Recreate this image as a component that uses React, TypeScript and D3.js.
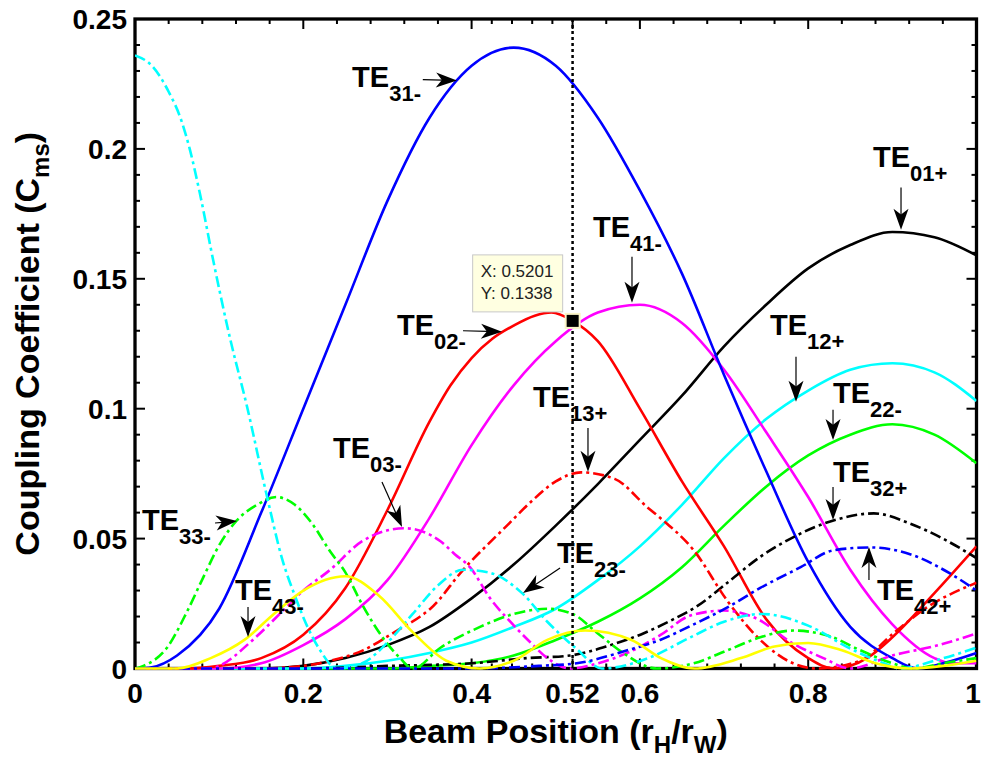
import React, { useRef, useEffect } from 'react';
import * as d3 from 'd3';

type Pt = [number, number];

// ---- curves: [beam position, coupling coefficient] ----
const te31Minus: Pt[] = [[0, 0], [0.02, 0.0005], [0.05, 0.005], [0.1, 0.023], [0.15, 0.06], [0.2, 0.1], [0.25, 0.14], [0.3, 0.18], [0.35, 0.212], [0.4, 0.232], [0.45, 0.239], [0.5, 0.232], [0.55, 0.212], [0.6, 0.184], [0.65, 0.152], [0.7, 0.113], [0.75, 0.076], [0.8, 0.041], [0.85, 0.016], [0.9, 0.004], [0.93, 0], [0.96, 0.002], [1, 0.006]];
const te02Minus: Pt[] = [[0, 0], [0.06, 0], [0.1, 0.001], [0.15, 0.004], [0.2, 0.013], [0.25, 0.031], [0.3, 0.061], [0.35, 0.095], [0.375, 0.109], [0.4, 0.1195], [0.425, 0.127], [0.45, 0.132], [0.475, 0.1358], [0.495, 0.137], [0.52, 0.1338], [0.55, 0.126], [0.6, 0.1], [0.65, 0.072], [0.7, 0.047], [0.75, 0.019], [0.8, 0.004], [0.83, 0], [0.87, 0.004], [0.9, 0.012], [0.95, 0.029], [1, 0.047]];
const te41Minus: Pt[] = [[0, 0], [0.1, 0], [0.15, 0.002], [0.2, 0.009], [0.25, 0.019], [0.3, 0.034], [0.35, 0.058], [0.4, 0.086], [0.45, 0.109], [0.5, 0.126], [0.55, 0.137], [0.6, 0.14], [0.65, 0.133], [0.7, 0.115], [0.75, 0.091], [0.8, 0.066], [0.85, 0.038], [0.9, 0.017], [0.95, 0.004], [0.97, 0.002], [1, 0.002]];
const te01Plus: Pt[] = [[0, 0], [0.15, 0], [0.2, 0.001], [0.25, 0.004], [0.3, 0.009], [0.35, 0.016], [0.4, 0.027], [0.45, 0.04], [0.5, 0.055], [0.55, 0.071], [0.6, 0.088], [0.65, 0.105], [0.7, 0.124], [0.75, 0.14], [0.8, 0.154], [0.85, 0.163], [0.9, 0.168], [0.95, 0.166], [1, 0.159]];
const te12Plus: Pt[] = [[0, 0], [0.2, 0], [0.25, 0.001], [0.3, 0.003], [0.35, 0.006], [0.4, 0.01], [0.45, 0.016], [0.5, 0.023], [0.55, 0.034], [0.6, 0.047], [0.65, 0.063], [0.7, 0.081], [0.75, 0.096], [0.8, 0.107], [0.85, 0.115], [0.9, 0.1175], [0.95, 0.114], [1, 0.103]];
const te22Minus: Pt[] = [[0, 0], [0.3, 0], [0.35, 0.001], [0.4, 0.002], [0.45, 0.005], [0.5, 0.011], [0.55, 0.018], [0.6, 0.027], [0.65, 0.039], [0.7, 0.055], [0.75, 0.07], [0.8, 0.082], [0.85, 0.09], [0.9, 0.094], [0.95, 0.09], [1, 0.079]];
const te43Minus: Pt[] = [[0, 0], [0.05, 0], [0.09, 0.004], [0.13, 0.011], [0.165, 0.021], [0.2, 0.03], [0.25, 0.0355], [0.29, 0.028], [0.33, 0.014], [0.37, 0.003], [0.41, 0], [0.45, 0.003], [0.49, 0.011], [0.535, 0.0146], [0.59, 0.011], [0.625, 0.004], [0.665, 0], [0.72, 0.004], [0.76, 0.0085], [0.8, 0.0098], [0.84, 0.007], [0.88, 0.002], [0.92, 0], [0.96, 0.001], [1, 0.003]];

const cyanDashDot: Pt[] = [[0, 0.236], [0.02, 0.232], [0.04, 0.222], [0.055, 0.211], [0.065, 0.2], [0.077, 0.183], [0.093, 0.157], [0.113, 0.127], [0.133, 0.101], [0.157, 0.066], [0.175, 0.042], [0.19, 0.028], [0.205, 0.016], [0.22, 0.007], [0.24, 0], [0.27, 0.002], [0.3, 0.01], [0.33, 0.021], [0.36, 0.032], [0.39, 0.038], [0.42, 0.037], [0.46, 0.029], [0.49, 0.018], [0.525, 0.0075], [0.555, 0], [0.61, 0.004], [0.66, 0.012], [0.7, 0.018], [0.745, 0.021], [0.8, 0.0165], [0.85, 0.0077], [0.89, 0.002], [0.91, 0], [0.95, 0.003], [1, 0.008]];
const te33Minus: Pt[] = [[0, 0], [0.01, 0.001], [0.038, 0.008], [0.062, 0.022], [0.081, 0.035], [0.101, 0.048], [0.121, 0.057], [0.145, 0.063], [0.168, 0.066], [0.19, 0.063], [0.21, 0.056], [0.232, 0.045], [0.25, 0.037], [0.271, 0.024], [0.295, 0.0116], [0.315, 0.004], [0.33, 0], [0.363, 0.008], [0.41, 0.016], [0.45, 0.021], [0.49, 0.023], [0.52, 0.021], [0.55, 0.0135], [0.58, 0.006], [0.62, 0], [0.664, 0.002], [0.704, 0.007], [0.743, 0.012], [0.782, 0.0146], [0.823, 0.0127], [0.862, 0.007], [0.9, 0.002], [0.925, 0], [0.96, 0.002], [1, 0.004]];
const te03Minus: Pt[] = [[0, 0], [0.09, 0], [0.1, 0.001], [0.14, 0.011], [0.172, 0.021], [0.2, 0.03], [0.232, 0.038], [0.27, 0.049], [0.32, 0.054], [0.363, 0.049], [0.38, 0.044], [0.398, 0.039], [0.422, 0.027], [0.446, 0.018], [0.47, 0.01], [0.49, 0.004], [0.517, 0], [0.55, 0.002], [0.585, 0.006], [0.625, 0.013], [0.66, 0.0204], [0.7, 0.0223], [0.74, 0.019], [0.78, 0.01], [0.818, 0.004], [0.85, 0], [0.9, 0.005], [0.955, 0.009], [1, 0.0135]];
const te13Plus: Pt[] = [[0, 0], [0.15, 0], [0.2, 0.001], [0.232, 0.003], [0.271, 0.007], [0.311, 0.0145], [0.339, 0.02], [0.351, 0.023], [0.39, 0.038], [0.442, 0.055], [0.47, 0.064], [0.5, 0.072], [0.53, 0.0755], [0.57, 0.073], [0.609, 0.062], [0.624, 0.058], [0.664, 0.0455], [0.704, 0.026], [0.743, 0.011], [0.782, 0.002], [0.81, 0], [0.862, 0.003], [0.901, 0.0135], [0.941, 0.0235], [1, 0.033]];
const te32Plus: Pt[] = [[0, 0], [0.2, 0], [0.3, 0.001], [0.4, 0.002], [0.466, 0.004], [0.517, 0.005], [0.565, 0.009], [0.604, 0.0135], [0.64, 0.019], [0.668, 0.024], [0.704, 0.033], [0.743, 0.043], [0.782, 0.0505], [0.83, 0.057], [0.878, 0.0597], [0.921, 0.0558], [0.96, 0.05], [1, 0.0425]];
const te42Plus: Pt[] = [[0, 0], [0.4, 0], [0.48, 0.001], [0.525, 0.002], [0.585, 0.007], [0.624, 0.011], [0.664, 0.017], [0.704, 0.0235], [0.743, 0.031], [0.791, 0.039], [0.83, 0.0455], [0.874, 0.0466], [0.921, 0.044], [0.969, 0.0365], [1, 0.03]];

const series = [
  { data: te01Plus, color: '#000000', dash: false },
  { data: te22Minus, color: '#00ff00', dash: false },
  { data: te12Plus, color: '#00ffff', dash: false },
  { data: te41Minus, color: '#ff00ff', dash: false },
  { data: te02Minus, color: '#ff0000', dash: false },
  { data: te31Minus, color: '#0000ff', dash: false },
  { data: te32Plus, color: '#000000', dash: true },
  { data: te13Plus, color: '#ff0000', dash: true },
  { data: te03Minus, color: '#ff00ff', dash: true },
  { data: te33Minus, color: '#00ff00', dash: true },
  { data: cyanDashDot, color: '#00ffff', dash: true },
  { data: te42Plus, color: '#0000ff', dash: true },
  { data: te43Minus, color: '#ffff00', dash: false },
];

const xMajorTicks = [0, 0.2, 0.4, 0.52, 0.6, 0.8, 1];
const xMinorTicks = [0.04, 0.08, 0.12, 0.16, 0.24, 0.28, 0.32, 0.36, 0.424, 0.448, 0.472, 0.496, 0.56, 0.64, 0.68, 0.72, 0.76, 0.84, 0.88, 0.92, 0.96];
const yMajorTicks = [0, 0.05, 0.1, 0.15, 0.2, 0.25];
const yMinorTicks = [0.01, 0.02, 0.03, 0.04, 0.06, 0.07, 0.08, 0.09, 0.11, 0.12, 0.13, 0.14, 0.16, 0.17, 0.18, 0.19, 0.21, 0.22, 0.23, 0.24];

const markerX = 0.52;
const dataTip = { x: 0.5201, y: 0.1338 };

// label anchor (left/baseline of "TE") and arrow tail -> tip, all in data units
const annotations = [
  { sub: '31-', at: [0.258, 0.224], from: [0.342, 0.2267], to: [0.3826, 0.2263] },
  { sub: '02-', at: [0.3113, 0.1285], from: [0.3898, 0.13], to: [0.4361, 0.1296] },
  { sub: '41-', at: [0.5443, 0.1662], from: [0.5906, 0.1585], to: [0.5906, 0.1408] },
  { sub: '01+', at: [0.877, 0.1932], from: [0.9103, 0.1851], to: [0.9103, 0.1689] },
  { sub: '12+', at: [0.7546, 0.1285], from: [0.7855, 0.12], to: [0.7855, 0.1027] },
  { sub: '22-', at: [0.8295, 0.1023], from: [0.8295, 0.0996], to: [0.8295, 0.088] },
  { sub: '32+', at: [0.8295, 0.0718], from: [0.8295, 0.0699], to: [0.8295, 0.0572] },
  { sub: '42+', at: [0.8818, 0.0264], from: [0.8722, 0.0341], to: [0.8722, 0.0468] },
  { sub: '13+', at: [0.473, 0.1007], from: [0.5383, 0.0926], to: [0.5383, 0.0757] },
  { sub: '03-', at: [0.2353, 0.0811], from: [0.2935, 0.0718], to: [0.3173, 0.0545] },
  { sub: '33-', at: [0.0083, 0.0534], from: [0.0951, 0.056], to: [0.1212, 0.0568] },
  { sub: '43-', at: [0.1188, 0.0264], from: [0.1343, 0.0237], to: [0.1343, 0.0121] },
  { sub: '23-', at: [0.5015, 0.0406], from: [0.5051, 0.0387], to: [0.4611, 0.0291] },
];

const W = 981;
const H = 761;
const plot = { left: 135, right: 976.5, top: 19, bottom: 668.5 };
const FONT = "'Liberation Sans', Arial, Helvetica, sans-serif";

const App = () => {
  const svgRef = useRef<SVGSVGElement>(null);

  useEffect(() => {
    const svg = d3.select(svgRef.current);
    svg.selectAll('*').remove();

    const x = d3.scaleLinear().domain([0, 1]).range([plot.left, plot.right]);
    const y = d3.scaleLinear().domain([0, 0.25]).range([plot.bottom, plot.top]);

    svg.append('rect').attr('width', W).attr('height', H).attr('fill', '#fff');

    svg.append('defs').append('clipPath').attr('id', 'plot-clip')
      .append('rect')
      .attr('x', plot.left).attr('y', plot.top - 2)
      .attr('width', plot.right - plot.left).attr('height', plot.bottom - plot.top + 4);

    // axes box
    svg.append('rect')
      .attr('x', plot.left).attr('y', plot.top)
      .attr('width', plot.right - plot.left).attr('height', plot.bottom - plot.top)
      .attr('fill', 'none').attr('stroke', '#000').attr('stroke-width', 3.3);

    const ticks = svg.append('g').attr('stroke', '#000').attr('stroke-width', 2);
    const addXTicks = (vals: number[], len: number) => {
      vals.forEach(v => {
        ticks.append('line').attr('x1', x(v)).attr('x2', x(v)).attr('y1', plot.bottom).attr('y2', plot.bottom - len);
        ticks.append('line').attr('x1', x(v)).attr('x2', x(v)).attr('y1', plot.top).attr('y2', plot.top + len);
      });
    };
    const addYTicks = (vals: number[], len: number) => {
      vals.forEach(v => {
        ticks.append('line').attr('y1', y(v)).attr('y2', y(v)).attr('x1', plot.left).attr('x2', plot.left + len);
        ticks.append('line').attr('y1', y(v)).attr('y2', y(v)).attr('x1', plot.right).attr('x2', plot.right - len);
      });
    };
    addXTicks(xMajorTicks, 10);
    addXTicks(xMinorTicks, 5);
    addYTicks(yMajorTicks, 10);
    addYTicks(yMinorTicks, 5);

    // tick labels (the last one is pulled in so it stays on the canvas)
    svg.append('g').selectAll('text').data(xMajorTicks).enter().append('text')
      .attr('x', d => Math.min(x(d), W - 8)).attr('y', 703)
      .attr('text-anchor', 'middle')
      .style('font-family', FONT).style('font-weight', 'bold').style('font-size', '28px')
      .text(d => String(d));

    svg.append('g').selectAll('text').data(yMajorTicks).enter().append('text')
      .attr('x', plot.left - 8).attr('y', d => y(d) + 10)
      .attr('text-anchor', 'end')
      .style('font-family', FONT).style('font-weight', 'bold').style('font-size', '28px')
      .text(d => String(d));

    // curves
    const line = d3.line<Pt>().x(d => x(d[0])).y(d => y(d[1])).curve(d3.curveMonotoneX);
    const lines = svg.append('g').attr('clip-path', 'url(#plot-clip)');
    series.forEach(s => {
      lines.append('path')
        .attr('d', line(s.data))
        .attr('fill', 'none')
        .attr('stroke', s.color)
        .attr('stroke-width', 2.6)
        .attr('stroke-dasharray', s.dash ? '11,4,3,4' : null);
    });

    // dotted marker line
    svg.append('line')
      .attr('x1', x(markerX)).attr('x2', x(markerX))
      .attr('y1', y(0.25)).attr('y2', y(0))
      .attr('stroke', '#000').attr('stroke-width', 2.5)
      .attr('stroke-dasharray', '3,3');

    // annotations
    const ann = svg.append('g');
    annotations.forEach(a => {
      const tx = x(a.at[0]);
      const ty = y(a.at[1]);
      const t = ann.append('text')
        .attr('x', tx).attr('y', ty)
        .style('font-family', FONT).style('font-weight', 'bold').style('font-size', '29px');
      t.append('tspan').text('TE');
      t.append('tspan').attr('dy', 14).style('font-size', '22px').text(a.sub);

      const x0 = x(a.from[0]), y0 = y(a.from[1]);
      const x1 = x(a.to[0]), y1 = y(a.to[1]);
      const dx = x1 - x0, dy = y1 - y0;
      const len = Math.hypot(dx, dy);
      const ux = dx / len, uy = dy / len;
      const nx = -uy, ny = ux;
      const L = 21, Wd = 7.5;
      ann.append('line')
        .attr('x1', x0).attr('y1', y0)
        .attr('x2', x1 - ux * L * 0.7).attr('y2', y1 - uy * L * 0.7)
        .attr('stroke', '#000').attr('stroke-width', 1.2);
      const head = [
        [x1, y1],
        [x1 - ux * L + nx * Wd, y1 - uy * L + ny * Wd],
        [x1 - ux * L * 0.72, y1 - uy * L * 0.72],
        [x1 - ux * L - nx * Wd, y1 - uy * L - ny * Wd],
      ];
      ann.append('path')
        .attr('d', 'M' + head.map(p => p.join(',')).join('L') + 'Z')
        .attr('fill', '#000');
    });

    // data tip
    const mx = x(dataTip.x), my = y(dataTip.y);
    const tip = svg.append('g');
    tip.append('rect')
      .attr('x', mx - 100).attr('y', my - 66)
      .attr('width', 90).attr('height', 57)
      .attr('fill', '#ffffe1').attr('stroke', '#c8c8c8').attr('stroke-width', 1);
    tip.append('text')
      .attr('x', mx - 92).attr('y', my - 44)
      .style('font-family', FONT).style('font-size', '17px').attr('fill', '#222')
      .text(`X: ${dataTip.x.toFixed(4)}`);
    tip.append('text')
      .attr('x', mx - 92).attr('y', my - 22)
      .style('font-family', FONT).style('font-size', '17px').attr('fill', '#222')
      .text(`Y: ${dataTip.y.toFixed(4)}`);
    tip.append('rect')
      .attr('x', mx - 8).attr('y', my - 8).attr('width', 16).attr('height', 16)
      .attr('fill', '#fbf5c8');
    tip.append('rect')
      .attr('x', mx - 6).attr('y', my - 6).attr('width', 12).attr('height', 12)
      .attr('fill', '#000');

    // axis titles
    const xt = svg.append('text')
      .attr('x', (plot.left + plot.right) / 2).attr('y', 743)
      .attr('text-anchor', 'middle')
      .style('font-family', FONT).style('font-weight', 'bold').style('font-size', '34px');
    xt.append('tspan').text('Beam Position (r');
    xt.append('tspan').attr('dy', 10).style('font-size', '24px').text('H');
    xt.append('tspan').attr('dy', -10).text('/r');
    xt.append('tspan').attr('dy', 10).style('font-size', '24px').text('W');
    xt.append('tspan').attr('dy', -10).text(')');

    const yt = svg.append('text')
      .attr('transform', `translate(39,${(plot.top + plot.bottom) / 2}) rotate(-90)`)
      .attr('text-anchor', 'middle')
      .style('font-family', FONT).style('font-weight', 'bold').style('font-size', '34px');
    yt.append('tspan').text('Coupling Coefficient (C');
    yt.append('tspan').attr('dy', 10).style('font-size', '24px').text('ms');
    yt.append('tspan').attr('dy', -10).text(')');
  }, []);

  return (
    <div style={{ position: 'absolute', left: 0, top: 0 }}>
      <svg ref={svgRef} width={W} height={H} />
    </div>
  );
};

export default App;
